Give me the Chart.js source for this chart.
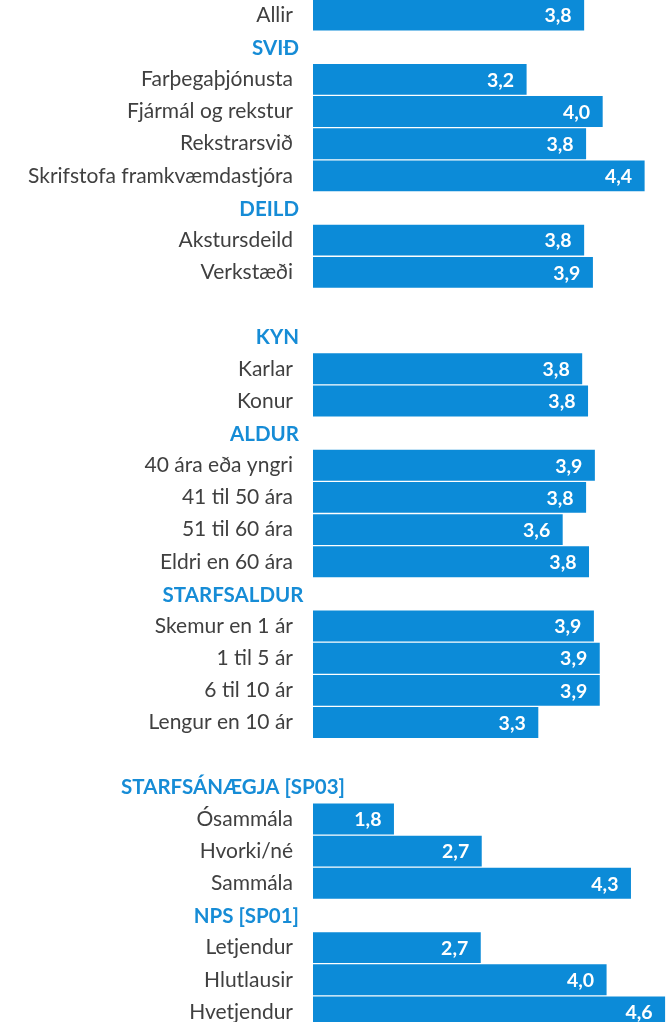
<!DOCTYPE html>
<html><head><meta charset="utf-8">
<script src="https://cdn.jsdelivr.net/npm/chart.js@4.4.1/dist/chart.umd.min.js"></script>
<style>
html,body{margin:0;padding:0;background:#fff;overflow:hidden;width:669px;height:1022px;}
#wrap{position:absolute;left:0;top:-1px;width:669px;height:1029px;}
</style></head><body>
<div id="wrap"><canvas id="c"></canvas></div>
<script>
const categories = ['Allir','SVIÐ','Farþegaþjónusta','Fjármál og rekstur','Rekstrarsvið','Skrifstofa framkvæmdastjóra',
  'DEILD','Akstursdeild','Verkstæði','','KYN','Karlar','Konur','ALDUR','40 ára eða yngri','41 til 50 ára',
  '51 til 60 ára','Eldri en 60 ára','STARFSALDUR','Skemur en 1 ár','1 til 5 ár','6 til 10 ár','Lengur en 10 ár','',
  'STARFSÁNÆGJA [SP03]','Ósammála','Hvorki/né','Sammála','NPS [SP01]','Letjendur','Hlutlausir','Hvetjendur'];
const headers = ['SVIÐ','DEILD','KYN','ALDUR','STARFSALDUR','STARFSÁNÆGJA [SP03]','NPS [SP01]'];
const values = [3.78,null,3.19,3.97,3.80,4.40,
  null,3.78,3.87,null,null,3.76,3.82,null,3.89,3.80,
  3.56,3.83,null,3.88,3.94,3.94,3.31,null,
  null,1.83,2.73,4.26,null,2.72,4.01,4.61];
const axisMin = 1, axisMax = 4.65;

const BLUE = '#0c8bd8';
const HEAD = '#168cd6';
const GRAY = '#404040';
const FONT = 'Lato, "Open Sans", sans-serif';

const valueLabels = {
  id: 'valueLabels',
  afterDatasetsDraw(chart) {
    const ctx = chart.ctx;
    const meta = chart.getDatasetMeta(0);
    ctx.save();
    ctx.font = 'bold 19.5px ' + FONT;
    ctx.fillStyle = '#ffffff';
    ctx.textAlign = 'right';
    ctx.textBaseline = 'middle';
    meta.data.forEach((el, i) => {
      const v = values[i];
      if (v === null || v === undefined) return;
      ctx.fillText(v.toFixed(1).replace('.', ','), el.x - 12.5, el.y + 1);
    });
    ctx.restore();
  }
};

const headerLabels = {
  id: 'headerLabels',
  afterDraw(chart) {
    const ctx = chart.ctx;
    const y = chart.scales.y;
    const left = chart.chartArea.left;
    ctx.save();
    ctx.font = 'bold 20.5px ' + FONT;
    ctx.fillStyle = HEAD;
    ctx.textBaseline = 'middle';
    categories.forEach((c, i) => {
      if (!headers.includes(c)) return;
      const py = y.getPixelForValue(i) + 1;
      const w = ctx.measureText(c).width;
      if (w > 110) {
        ctx.textAlign = 'center';
        ctx.fillText(c, left - 80, py);
      } else {
        ctx.textAlign = 'right';
        ctx.fillText(c, left - 14, py);
      }
    });
    ctx.restore();
  }
};

new Chart(document.getElementById('c'), {
  type: 'bar',
  data: {
    labels: categories,
    datasets: [{
      data: values,
      backgroundColor: BLUE,
      borderWidth: 0,
      barPercentage: 0.96,
      categoryPercentage: 1
    }]
  },
  options: {
    indexAxis: 'y',
    responsive: true,
    maintainAspectRatio: false,
    animation: false,
    devicePixelRatio: 1,
    layout: { padding: 0 },
    plugins: { legend: { display: false }, tooltip: { enabled: false } },
    scales: {
      x: { display: false, min: axisMin, max: axisMax },
      y: {
        afterFit(scale) { scale.width = 313; scale.paddingTop = 0; scale.paddingBottom = 0; },
        grid: { display: false, drawTicks: false },
        border: { display: false },
        ticks: {
          autoSkip: false,
          padding: 20,
          color: GRAY,
          font: { family: FONT, size: 21 },
          callback(value, index) {
            const c = categories[index];
            return headers.includes(c) ? '' : c;
          }
        }
      }
    }
  },
  plugins: [valueLabels, headerLabels]
});
</script>
</body></html>
